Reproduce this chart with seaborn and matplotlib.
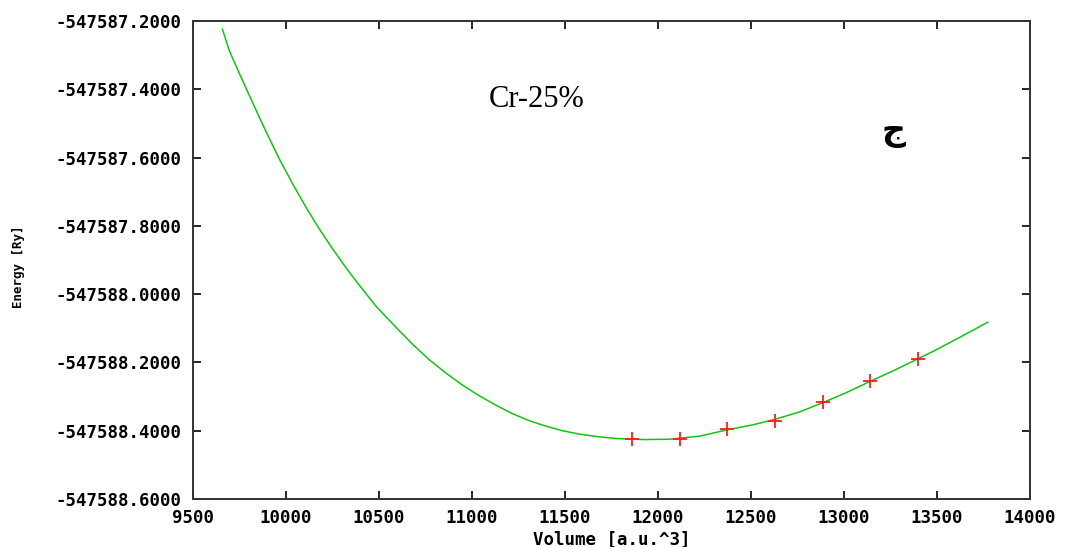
import matplotlib
matplotlib.use("Agg")
import matplotlib.pyplot as plt
import seaborn as sns
import pandas as pd
from matplotlib.ticker import FormatStrFormatter, MultipleLocator

# Fitted curve
curve_volume = [9658, 9694, 9748, 9784, 9819, 9855, 9891, 9963, 10035, 10107, 10178,
                10250, 10322, 10377, 10485, 10593, 10679, 10770, 10862, 10948, 11040,
                11131, 11217, 11309, 11400, 11486, 11578, 11669, 11777, 11928, 12062,
                12224, 12369, 12509, 12627, 12762, 12886, 13015, 13139, 13263, 13392,
                13500, 13586, 13693, 13774]
curve_energy = [-547587.223, -547587.285, -547587.352, -547587.395, -547587.437, -547587.480,
                -547587.522, -547587.603, -547587.676, -547587.745, -547587.808,
                -547587.867, -547587.922, -547587.962, -547588.036, -547588.098, -547588.146,
                -547588.192, -547588.232, -547588.266, -547588.298, -547588.326, -547588.350,
                -547588.371, -547588.387, -547588.400, -547588.410, -547588.417, -547588.423,
                -547588.426, -547588.425, -547588.416, -547588.398, -547588.383, -547588.367,
                -547588.345, -547588.318, -547588.288, -547588.256, -547588.225, -547588.191,
                -547588.162, -547588.137, -547588.106, -547588.082]

# Data points
point_volume = [11858, 12116, 12369, 12627, 12886, 13139, 13397]
point_energy = [-547588.425, -547588.425, -547588.395, -547588.372, -547588.317, -547588.255, -547588.191]

x_ticks = [9500, 10000, 10500, 11000, 11500, 12000, 12500, 13000, 13500, 14000]

sns.set_style("ticks")
plt.rcParams['font.family'] = ['DejaVu Sans Mono', 'DejaVu Sans']
plt.rcParams['axes.unicode_minus'] = False
plt.rcParams['text.color'] = 'black'
plt.rcParams['axes.labelcolor'] = 'black'

fig = plt.figure(figsize=(10.65, 5.47), dpi=100)
ax = fig.add_axes([0.1812, 0.0878, 0.7859, 0.8738])

curve_df = pd.DataFrame({"V": curve_volume, "E": curve_energy})
pts_df = pd.DataFrame({"V": point_volume, "E": point_energy})

sns.lineplot(data=curve_df, x="V", y="E", ax=ax, color="#11c511", linewidth=1.1,
             sort=True, estimator=None)
sns.scatterplot(data=pts_df, x="V", y="E", ax=ax, marker="+", color="#ff1a1a",
                s=90, linewidth=1.3, zorder=3)

ax.set_xlim(9500, 14000)
ax.set_ylim(-547588.6, -547587.2)
ax.set_xticks(x_ticks)
ax.yaxis.set_major_locator(MultipleLocator(0.2))
ax.yaxis.set_major_formatter(FormatStrFormatter('%.4f'))

ax.tick_params(direction='in', length=6, width=1.2, top=True, right=True,
               labelsize=12.5, colors='black', pad=8)
ax.tick_params(axis='x', pad=7)
for lab in ax.get_xticklabels() + ax.get_yticklabels():
    lab.set_fontweight('bold')
for sp in ax.spines.values():
    sp.set_color('#333333')
    sp.set_linewidth(1.4)

ax.set_xlabel("Volume [a.u.^3]", fontsize=12.5, fontweight='bold', labelpad=3)
ax.set_ylabel("")
fig.text(0.017, 0.513, "Energy [Ry]", rotation=90, fontsize=9, fontweight='bold',
         ha='center', va='center')

ax.text(0.353, 0.82, "Cr-25%", transform=ax.transAxes, fontsize=22,
        family=['Liberation Serif', 'DejaVu Serif'], ha='left', va='baseline')
ax.text(0.8375, 0.752, "ج", transform=ax.transAxes, fontsize=24, fontweight='bold',
        family=['DejaVu Sans'], ha='center', va='baseline')

fig.savefig("out.png", dpi=100)
